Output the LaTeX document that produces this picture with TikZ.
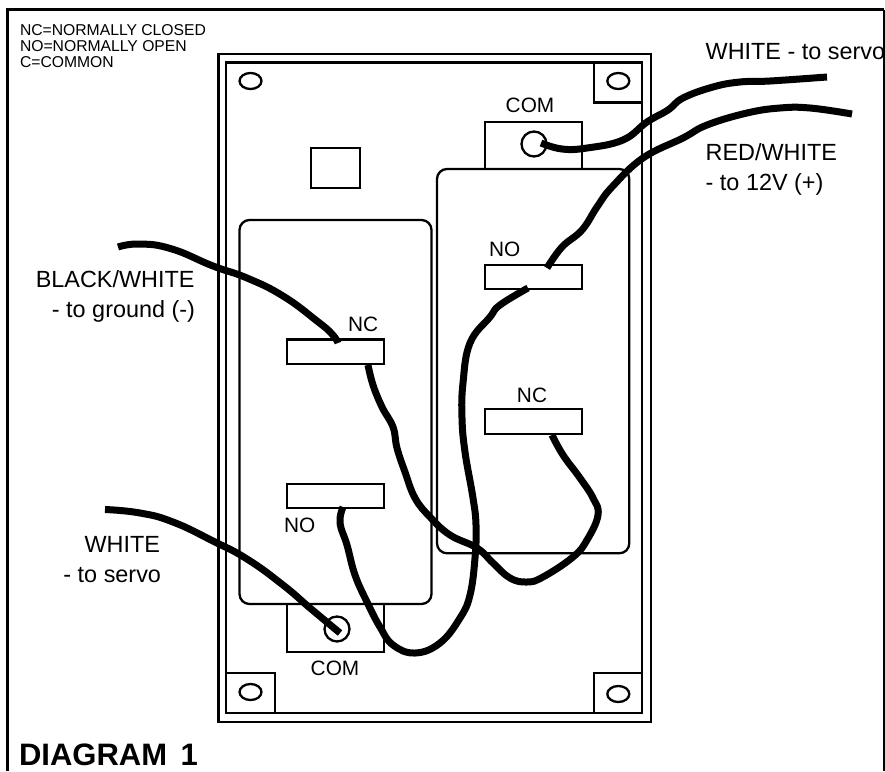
\documentclass[tikz,border=0pt]{standalone}
\usepackage{fontspec}
\setmainfont{Liberation Sans}
\usetikzlibrary{shapes.geometric}
\tikzset{
  outline/.style={draw=black,line width=2.3pt},
  contact/.style={outline,fill=white,inner sep=0pt,outer sep=0pt,minimum width=97pt,minimum height=24.5pt},
  hole/.style={outline,ellipse,inner sep=0pt,outer sep=0pt,minimum width=22pt,minimum height=16pt},
  post/.style={outline,circle,inner sep=0pt,outer sep=0pt,minimum size=25pt},
  wire/.style={draw=black,line width=7pt,line cap=butt,line join=round},
  lab/.style={inner sep=0pt,outer sep=0pt,font=\fontsize{23.4}{26}\selectfont},
  tag/.style={inner sep=0pt,outer sep=0pt,font=\fontsize{20.8}{24}\selectfont},
  legend/.style={inner sep=0pt,outer sep=0pt,font=\fontsize{15.7}{16}\selectfont},
}
\begin{document}
\begin{tikzpicture}[x=1pt,y=-1pt]
\useasboundingbox (0,0) rectangle (885,771);
\fill[white] (0,0) rectangle (885,771);
% page frame
\draw[line width=2.4pt] (7.5,771) -- (7.5,9.5) -- (884,9.5);
\draw[line width=1.8pt] (884,9.5) -- (884,771);
% housing
\draw[outline] (218.5,54) rectangle (650.7,721.7);
\draw[outline] (226,62.5) rectangle (642.3,713.3);
% corner tabs
\draw[outline] (594,62.5) -- (594,102.5) -- (642.3,102.5);
\draw[outline] (226,672.7) -- (275,672.7) -- (275,713.3);
\draw[outline] (594,713.3) -- (594,672.7) -- (642.3,672.7);
\node[hole] (h1) at (250.5,81) {};
\node[hole] (h2) at (618.3,81) {};
\node[hole] (h3) at (250.5,692) {};
\node[hole] (h4) at (618.3,694) {};
% small square
\draw[outline] (311,148) rectangle (360,188);
% switch bodies
\draw[outline,rounded corners=10pt] (239.5,220) rectangle (431.5,604);
\draw[outline,rounded corners=10pt] (437,169) rectangle (629.3,553.3);
% COM blocks
\draw[outline] (484.7,169) -- (484.7,122) -- (581.7,122) -- (581.7,169);
\draw[outline] (287,604) -- (287,651.7) -- (384,651.7) -- (384,604);
\node[post] (p1) at (534,144) {};
\node[post] (p2) at (337,629) {};
% contacts
\node[contact] (ncl) at (335.5,351.7) {};
\node[contact] (nol) at (335.5,496) {};
\node[contact] (nor) at (533.3,277) {};
\node[contact] (ncr) at (533.3,421.5) {};
% wire ends
\coordinate (endA) at (118,247);
\coordinate (endD) at (852,114);
\coordinate (endE) at (827,77);
\coordinate (endF) at (105,509.5);
% wires
\draw[wire] plot[smooth,tension=.8] coordinates {(endA) (140,244) (172,249) (213,266) (247,278) (283,296) (317,321) (332,334) (338,343)};
\draw[wire] plot[smooth,tension=.7] coordinates {(368,365) (373,385) (382,407) (393,427) (397,448) (405,472) (415,498) (430,517) (450,535) (477,548) (493,563) (510,578) (527,582) (543,577) (573,557) (587,540) (598,515) (593,498) (580,478) (563,455) (552,435)};
\draw[wire] plot[smooth,tension=.7] coordinates {(343,507) (340,523) (347,545) (355,575) (367,602) (380,627) (393,645) (415,653) (440,643) (460,618) (470,595) (475,558) (476,525) (473,498) (465,452) (462,418) (463,383) (470,343) (490,317) (500,305) (528,288)};
\draw[wire] plot[smooth,tension=.7] coordinates {(547,268) (562,247) (582,230) (597,207) (612,187) (643,158) (683,138) (707,125) (747,113) (780,108) (810,108) (endD)};
\draw[wire] plot[smooth,tension=.7] coordinates {(541,143) (562,149) (587,148) (623,140) (647,122) (668,110) (683,98) (713,87) (740,82) (770,81) (endE)};
\draw[wire] plot[smooth,tension=.8] coordinates {(endF) (140,513) (173,522) (213,541) (247,559) (283,585) (310,608) (340,633)};
% labels
\node[legend,anchor=base west] (l1) at (20,35) {NC=NORMALLY CLOSED};
\node[legend,anchor=base west] (l2) at (20,51) {NO=NORMALLY OPEN};
\node[legend,anchor=base west] (l3) at (20,67) {C=COMMON};
\node[lab,anchor=base west] (t1) at (705.7,59) {WHITE - to servo};
\node[lab,anchor=base west] (t2) at (705.7,160) {RED/WHITE};
\node[lab,anchor=base west] (t3) at (705.7,190) {- to 12V (+)};
\node[lab,anchor=base east] (t4) at (194.5,287) {BLACK/WHITE};
\node[lab,anchor=base east] (t5) at (195,317) {- to ground (-)};
\node[lab,anchor=base east] (t6) at (160,552) {WHITE};
\node[lab,anchor=base east] (t7) at (161,582) {- to servo};
\node[tag,anchor=base west] (c1) at (348,331) {NC};
\node[tag,anchor=base] (c2) at (532,402) {NC};
\node[tag,anchor=base west] (c3) at (489,256) {NO};
\node[tag,anchor=base west] (c4) at (284,532) {NO};
\node[tag,anchor=base] (c5) at (530,112) {COM};
\node[tag,anchor=base] (c6) at (335,675) {COM};
\node[inner sep=0pt,outer sep=0pt,anchor=base west,font=\fontsize{31}{34}\selectfont\bfseries] (title) at (19,765) {DIAGRAM\hspace{5pt} 1};
\end{tikzpicture}
\end{document}
